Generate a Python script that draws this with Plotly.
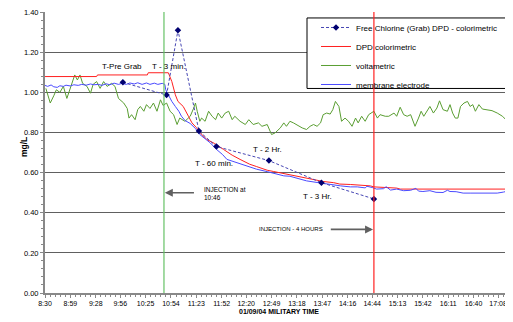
import plotly.graph_objects as go

# ---- data (time in minutes after 08:30) ----
x_tick_labels = ["8:30", "8:59", "9:28", "9:56", "10:25", "10:54", "11:23", "11:52", "12:20",
                 "12:49", "13:18", "13:47", "14:16", "14:44", "15:13", "15:42", "16:11", "16:40", "17:08"]
y_tick_vals = [0.0, 0.2, 0.4, 0.6, 0.8, 1.0, 1.2, 1.4]

grab_t = [89, 139, 152, 176, 196, 256, 316, 376]
grab_v = [1.05, 0.987, 1.31, 0.807, 0.73, 0.66, 0.55, 0.469]

dpd_t = [0, 59, 60, 117, 118, 141, 145, 149, 152, 158, 164, 168, 173, 177, 185, 194, 204, 214, 223,
         234, 242, 254, 261, 273, 280, 292, 303, 311, 318, 330, 337, 349, 357, 372, 376, 402, 406, 535]
dpd_v = [1.079, 1.079, 1.087, 1.087, 1.098, 1.098, 1.054, 0.988, 0.955, 0.93, 0.881, 0.848, 0.825,
         0.80, 0.765, 0.745, 0.716, 0.687, 0.666, 0.642, 0.63, 0.612, 0.606, 0.595, 0.59, 0.576,
         0.568, 0.559, 0.556, 0.55, 0.543, 0.541, 0.539, 0.534, 0.529, 0.523, 0.518, 0.518]

volt_t = [1, 6, 10, 13, 17, 21, 25, 28, 31, 34, 37, 40, 43, 48, 52, 55, 59, 63, 67, 71, 76, 80, 84,
          90, 94, 96, 99, 103, 106, 109, 113, 116, 120, 124, 128, 132, 135, 139, 143, 147, 151, 154,
          160, 166, 170, 172, 174, 177, 179, 183, 187, 191, 195, 198, 202, 206, 210, 214, 217, 223,
          229, 233, 238, 244, 248, 254, 259, 263, 269, 273, 276, 280, 284, 290, 294, 299, 303, 307,
          311, 315, 318, 322, 326, 329, 332, 336, 339, 343, 347, 351, 355, 358, 362, 366, 370, 376,
          380, 383, 389, 393, 399, 402, 406, 410, 414, 418, 421, 423, 427, 430, 433, 437, 440, 444,
          448, 451, 455, 460, 463, 466, 469, 472, 475, 479, 483, 486, 489, 492, 496, 500, 505, 511,
          517, 523, 528, 535]
volt_v = [1.02, 0.947, 0.983, 1.013, 1.0, 1.03, 0.97, 1.01, 1.045, 1.087, 1.062, 1.087, 1.045, 1.03,
          0.996, 1.04, 1.054, 1.02, 1.054, 1.03, 1.045, 1.03, 0.97, 0.947, 0.92, 0.872, 0.889, 0.864,
          0.914, 0.93, 0.906, 0.939, 0.92, 0.947, 0.906, 0.963, 0.935, 0.947, 0.906, 0.889, 0.84,
          0.872, 0.856, 0.881, 0.922, 0.947, 0.906, 0.856, 0.872, 0.856, 0.906, 0.881, 0.864, 0.897,
          0.872, 0.897, 0.906, 0.864, 0.881, 0.856, 0.84, 0.864, 0.84, 0.848, 0.831, 0.84, 0.79,
          0.798, 0.823, 0.848, 0.831, 0.856, 0.848, 0.831, 0.823, 0.815, 0.831, 0.84, 0.831, 0.848,
          0.889, 0.897, 0.892, 0.914, 0.955, 0.93, 0.856, 0.872, 0.856, 0.831, 0.872, 0.848, 0.881,
          0.856, 0.889, 0.906, 0.872, 0.889, 0.881, 0.881, 0.897, 0.881, 0.926, 0.889, 0.881, 0.889,
          0.848, 0.831, 0.872, 0.906, 0.881, 0.906, 0.93, 0.897, 0.922, 0.958, 0.914, 0.906, 0.939,
          0.897, 0.872, 0.872, 0.93, 0.947, 0.955, 0.93, 0.939, 0.906, 0.939, 0.917, 0.914, 0.909,
          0.897, 0.881, 0.859, 0.831]

memb_t = [0, 3, 7, 10, 14, 17, 21, 24, 29, 33, 38, 42, 47, 52, 56, 61, 65, 70, 74, 79, 84, 88, 93,
          97, 102, 106, 111, 116, 120, 125, 129, 134, 137, 138, 141, 145, 149, 153, 156, 160, 166,
          172, 177, 183, 189, 196, 203, 208, 215, 223, 231, 235, 242, 254, 265, 273, 280, 292, 299,
          311, 318, 330, 338, 349, 357, 366, 368, 374, 379, 387, 390, 395, 402, 410, 418, 424, 427,
          432, 440, 447, 455, 460, 463, 470, 478, 486, 494, 502, 509, 517, 524, 530, 535]
memb_v = [1.035, 1.03, 1.037, 1.028, 1.025, 1.033, 1.03, 1.036, 1.032, 1.038, 1.035, 1.04, 1.036,
          1.042, 1.038, 1.04, 1.035, 1.043, 1.038, 1.046, 1.04, 1.045, 1.04, 1.047, 1.042, 1.048,
          1.04, 1.047, 1.04, 1.046, 1.04, 1.045, 1.04, 1.013, 0.988, 0.955, 0.93, 0.906, 0.881,
          0.86, 0.845, 0.82, 0.79, 0.77, 0.748, 0.716, 0.69, 0.666, 0.656, 0.642, 0.633, 0.626,
          0.617, 0.605, 0.595, 0.584, 0.582, 0.568, 0.559, 0.551, 0.546, 0.541, 0.534, 0.529, 0.529,
          0.524, 0.532, 0.526, 0.518, 0.52, 0.53, 0.513, 0.518, 0.51, 0.512, 0.522, 0.508, 0.506,
          0.51, 0.502, 0.501, 0.512, 0.506, 0.505, 0.498, 0.498, 0.498, 0.498, 0.498, 0.498, 0.503,
          0.51, 0.515]

injection_t = 136        # 10:46
injection_plus4_t = 376  # 14:46


def to_min(label):
    h, m = label.split(":")
    return (int(h) - 8) * 60 + int(m) - 30


tick_vals = [to_min(s) for s in x_tick_labels]

FONT = "Arial, Liberation Sans, sans-serif"

fig = go.Figure()
fig.add_trace(go.Scatter(x=volt_t, y=volt_v, mode="lines", name="voltametric",
                         line=dict(color="#5a9e32", width=1), legendrank=3))
fig.add_trace(go.Scatter(x=dpd_t, y=dpd_v, mode="lines", name="DPD colorimetric",
                         line=dict(color="#ff2020", width=1), legendrank=2))
fig.add_trace(go.Scatter(x=memb_t, y=memb_v, mode="lines", name="membrane electrode",
                         line=dict(color="#4a4aff", width=1), legendrank=4))
fig.add_trace(go.Scatter(x=grab_t, y=grab_v, mode="lines+markers",
                         name="Free Chlorine (Grab) DPD - colorimetric",
                         line=dict(color="#4646b4", width=1, dash="3px,2px"),
                         marker=dict(symbol="diamond", size=5, color="#000070"), legendrank=1))


# page pixel -> plot paper fraction (plot area spans page x 45..513, y 10..293)
def px_x(p):
    return (p - 45) / 468.0


def px_y(p):
    return (293 - p) / 283.0


# legend box (drawn first so the red event line crosses it, as in the original)
fig.add_shape(type="rect", xref="paper", yref="paper", x0=px_x(307), x1=px_x(511),
              y0=px_y(87), y1=px_y(16), line=dict(color="#000000", width=1),
              fillcolor="white", layer="above")

# vertical event lines
fig.add_shape(type="line", xref="x", yref="paper", x0=injection_t, x1=injection_t, y0=0, y1=1,
              line=dict(color="#66c266", width=1.2))
fig.add_shape(type="line", xref="x", yref="paper", x0=injection_plus4_t, x1=injection_plus4_t,
              y0=0, y1=1, line=dict(color="#ff2020", width=1.2), layer="above")

ann = []
def label(text, x, y, size=8, **kw):
    d = dict(text=text, x=x, y=y, xref="x", yref="y", showarrow=False,
             font=dict(family=FONT, size=size, color="#000000"))
    d.update(kw)
    ann.append(d)

label("T-Pre Grab", 88, 1.128)
label("T - 3 min.", 142, 1.128)
label("T - 2 Hr.", 254.5, 0.717)
label("T - 60 min.", 193, 0.648)
label("T - 3 Hr.", 311.7, 0.48)
label("INJECTION at<br>10:46", 180, 0.495, size=6.5, xanchor="left", align="left")
label("INJECTION - 4 HOURS", 242.5, 0.317, size=6, xanchor="left")

ann.append(dict(x=137, y=0.5, ax=172, ay=0.5, xref="x", yref="y", axref="x", ayref="y",
                text="", showarrow=True, arrowhead=2, arrowsize=1, arrowwidth=1.6,
                arrowcolor="#606060"))
ann.append(dict(x=375, y=0.317, ax=325, ay=0.317, xref="x", yref="y", axref="x", ayref="y",
                text="", showarrow=True, arrowhead=2, arrowsize=1, arrowwidth=1.6,
                arrowcolor="#606060"))

ann.append(dict(text="<b>01/09/04 MILITARY TIME</b>", x=0.5, y=px_y(317), xref="paper",
                yref="paper", showarrow=False, font=dict(family=FONT, size=7, color="#000")))
ann.append(dict(text="<b>mg/L</b>", x=px_x(17), y=px_y(146), xref="paper", yref="paper",
                showarrow=False, textangle=-90, font=dict(family=FONT, size=8.5, color="#000")))

# the page body adds an 8px margin, so the figure is 8px smaller and offsets shifted
fig.update_layout(
    width=505, height=314, autosize=False,
    margin=dict(l=37, r=0, t=2, b=29),
    paper_bgcolor="white", plot_bgcolor="white",
    font=dict(family=FONT, size=7.5, color="#000"),
    annotations=ann,
    showlegend=True,
    legend=dict(x=px_x(316), y=px_y(11), xanchor="left", yanchor="top",
                bgcolor="rgba(0,0,0,0)", borderwidth=0,
                font=dict(family=FONT, size=8, color="#000"), tracegroupgap=0),
    xaxis=dict(range=[0, 535], tickmode="array", tickvals=tick_vals, ticktext=x_tick_labels,
               showgrid=False, zeroline=False, showline=True, linecolor="#888888", linewidth=2,
               ticks="outside", ticklen=3, tickcolor="#888888",
               tickfont=dict(family=FONT, size=7), ticklabeloverflow="allow",
               minor=dict(tick0=0, dtick=5.76, ticks="outside", ticklen=2, tickcolor="#888888")),
    yaxis=dict(range=[0, 1.4008], tickmode="array", tickvals=y_tick_vals,
               ticktext=[f"{v:.2f}" for v in y_tick_vals],
               showgrid=True, gridcolor="#606060", gridwidth=1.3, zeroline=False,
               showline=True, linecolor="#888888", linewidth=2,
               ticks="outside", ticklen=3, tickcolor="#888888",
               tickfont=dict(family=FONT, size=7.5), ticklabeloverflow="allow",
               minor=dict(tick0=0, dtick=0.04, ticks="outside", ticklen=2, tickcolor="#888888",
                          showgrid=False)),
)

fig.write_html("out.html")
